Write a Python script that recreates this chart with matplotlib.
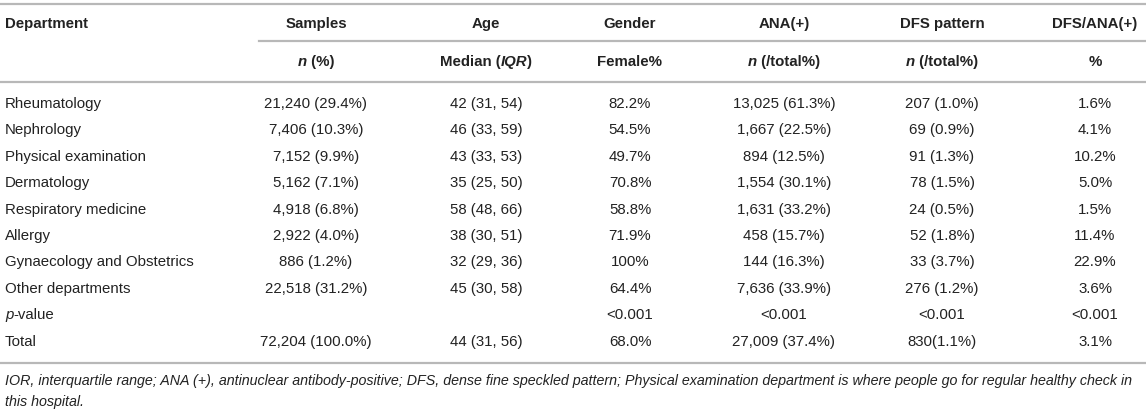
import matplotlib
matplotlib.use("Agg")
import matplotlib.pyplot as plt

# Table content
departments = ["Rheumatology", "Nephrology", "Physical examination", "Dermatology",
               "Respiratory medicine", "Allergy", "Gynaecology and Obstetrics",
               "Other departments", "p-value", "Total"]
samples = ["21,240 (29.4%)", "7,406 (10.3%)", "7,152 (9.9%)", "5,162 (7.1%)",
           "4,918 (6.8%)", "2,922 (4.0%)", "886 (1.2%)", "22,518 (31.2%)", "",
           "72,204 (100.0%)"]
age = ["42 (31, 54)", "46 (33, 59)", "43 (33, 53)", "35 (25, 50)", "58 (48, 66)",
       "38 (30, 51)", "32 (29, 36)", "45 (30, 58)", "", "44 (31, 56)"]
female = ["82.2%", "54.5%", "49.7%", "70.8%", "58.8%", "71.9%", "100%", "64.4%",
          "<0.001", "68.0%"]
ana_pos = ["13,025 (61.3%)", "1,667 (22.5%)", "894 (12.5%)", "1,554 (30.1%)",
           "1,631 (33.2%)", "458 (15.7%)", "144 (16.3%)", "7,636 (33.9%)", "<0.001",
           "27,009 (37.4%)"]
dfs = ["207 (1.0%)", "69 (0.9%)", "91 (1.3%)", "78 (1.5%)", "24 (0.5%)", "52 (1.8%)",
       "33 (3.7%)", "276 (1.2%)", "<0.001", "830(1.1%)"]
dfs_ana = ["1.6%", "4.1%", "10.2%", "5.0%", "1.5%", "11.4%", "22.9%", "3.6%",
           "<0.001", "3.1%"]

header_top = ["Samples", "Age", "Gender", "ANA(+)", "DFS pattern", "DFS/ANA(+)"]
# sub header pieces: (text, italic)
header_sub = [[("n", True), (" (%)", False)],
              [("Median (", False), ("IQR", True), (")", False)],
              [("Female%", False)],
              [("n", True), (" (/total%)", False)],
              [("n", True), (" (/total%)", False)],
              [("%", False)]]

footnote = ["IOR, interquartile range; ANA (+), antinuclear antibody-positive; DFS, dense fine speckled "
            "pattern; Physical examination department is where people go for regular healthy check in",
            "this hospital."]

W, H = 1146, 413
plt.rcParams['font.family'] = ['Liberation Sans', 'DejaVu Sans']
fig = plt.figure(figsize=(W / 100, H / 100), dpi=100)
ax = fig.add_axes([0, 0, 1, 1])
ax.set_xlim(0, W)
ax.set_ylim(H, 0)
ax.axis("off")

txt_col = "#222222"
line_col = "#b8b8b8"
fs = 10.8
col_x = [316, 486, 630, 784, 942, 1095]
left_x = 5
row_y0, row_dy = 104, 26.4

renderer = fig.canvas.get_renderer()


def mixed(x, y, parts, ha="center", **kw):
    texts, widths = [], []
    for s, it in parts:
        t = ax.text(0, y, s.replace(" ", "\u00a0"), fontstyle="italic" if it else "normal",
                    va="center", ha="left", **kw)
        widths.append(t.get_window_extent(renderer).width)
        texts.append(t)
    cur = x - sum(widths) / 2 if ha == "center" else x
    for t, w in zip(texts, widths):
        t.set_x(cur)
        cur += w


# rules
ax.plot([0, W], [4, 4], color=line_col, lw=1.6)
ax.plot([259, W], [41, 41], color=line_col, lw=1.6)
ax.plot([0, W], [82, 82], color=line_col, lw=1.6)
ax.plot([0, W], [363, 363], color=line_col, lw=1.6)

# headers
ax.text(left_x, 24, "Department", fontsize=fs, fontweight="bold", color=txt_col, va="center")
for x, h in zip(col_x, header_top):
    ax.text(x, 24, h, fontsize=fs, fontweight="bold", color=txt_col, va="center", ha="center")
for x, parts in zip(col_x, header_sub):
    mixed(x, 62, parts, fontsize=fs, fontweight="bold", color=txt_col)

# body
columns = [samples, age, female, ana_pos, dfs, dfs_ana]
for i, dep in enumerate(departments):
    y = row_y0 + i * row_dy
    if dep == "p-value":
        mixed(left_x, y, [("p", True), ("-value", False)], ha="left", fontsize=fs, color=txt_col)
    else:
        ax.text(left_x, y, dep, fontsize=fs, color=txt_col, va="center")
    for x, col in zip(col_x, columns):
        ax.text(x, y, col[i], fontsize=fs, color=txt_col, va="center", ha="center")

# footnote
for j, line in enumerate(footnote):
    ax.text(left_x, 381 + j * 21, line, fontsize=10.3, fontstyle="italic", color=txt_col, va="center")

fig.savefig("out.png", dpi=100)
